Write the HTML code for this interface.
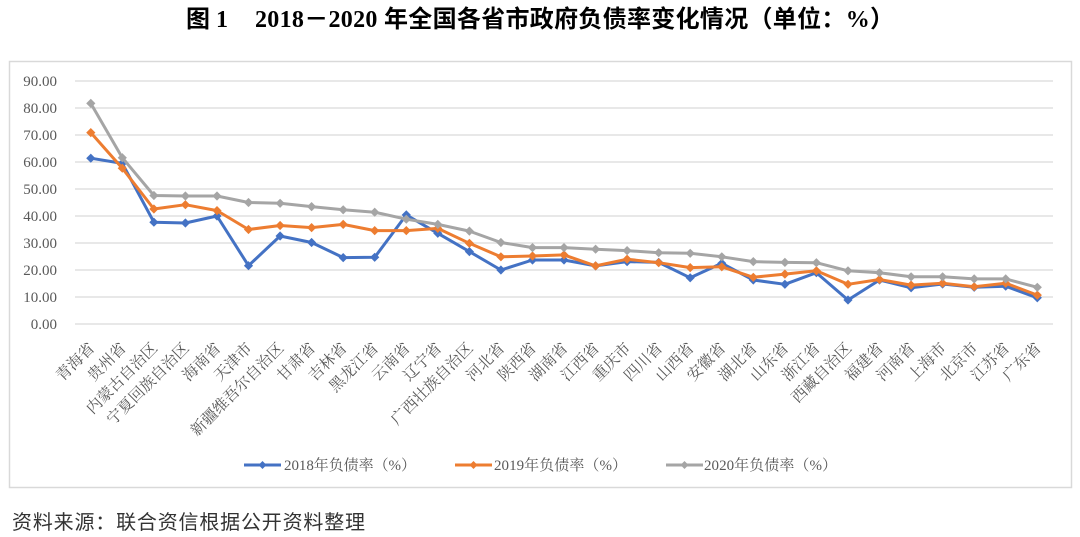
<!DOCTYPE html>
<html><head><meta charset="utf-8"><style>
html,body{margin:0;padding:0;background:#fff;}
svg{display:block;}
.yl{font-family:"Liberation Serif","Noto Serif CJK SC",serif;font-size:15px;fill:#595959;}
.xl{font-family:"Liberation Serif","Noto Serif CJK SC",serif;font-size:15.5px;fill:#595959;}
.lg{font-family:"Liberation Serif","Noto Serif CJK SC",serif;font-size:15px;fill:#595959;}
</style></head><body>
<svg width="1080" height="537" viewBox="0 0 1080 537" xmlns="http://www.w3.org/2000/svg">
<defs>
<marker id="mb" viewBox="-6 -6 12 12" markerWidth="12" markerHeight="12" markerUnits="userSpaceOnUse" refX="0" refY="0"><path d="M0,-4.6 L4.6,0 L0,4.6 L-4.6,0Z" fill="#4472C4"/></marker>
<marker id="mo" viewBox="-6 -6 12 12" markerWidth="12" markerHeight="12" markerUnits="userSpaceOnUse" refX="0" refY="0"><path d="M0,-4.6 L4.6,0 L0,4.6 L-4.6,0Z" fill="#ED7D31"/></marker>
<marker id="mg" viewBox="-6 -6 12 12" markerWidth="12" markerHeight="12" markerUnits="userSpaceOnUse" refX="0" refY="0"><path d="M0,-4.6 L4.6,0 L0,4.6 L-4.6,0Z" fill="#A5A5A5"/></marker>
</defs>
<rect width="1080" height="537" fill="#fff"/>
<!-- title -->
<text x="186" y="27" font-family="'Liberation Serif','Noto Sans CJK SC',sans-serif" font-size="24" font-weight="bold" fill="#000">图 1</text>
<text x="255" y="27" font-family="'Liberation Serif','Noto Sans CJK SC',sans-serif" font-size="24" font-weight="bold" fill="#000" textLength="639" lengthAdjust="spacing">2018－2020 年全国各省市政府负债率变化情况（单位：%）</text>
<!-- chart frame -->
<rect x="9.5" y="61.5" width="1062" height="426" fill="#fff" stroke="#d9d9d9" stroke-width="1.5"/>
<!-- gridlines -->
<g stroke="#d9d9d9" stroke-width="1.2">
<line x1="75" y1="81" x2="1053" y2="81"/>
<line x1="75" y1="108" x2="1053" y2="108"/>
<line x1="75" y1="135" x2="1053" y2="135"/>
<line x1="75" y1="162" x2="1053" y2="162"/>
<line x1="75" y1="189" x2="1053" y2="189"/>
<line x1="75" y1="216" x2="1053" y2="216"/>
<line x1="75" y1="243" x2="1053" y2="243"/>
<line x1="75" y1="270" x2="1053" y2="270"/>
<line x1="75" y1="297" x2="1053" y2="297"/>
<line x1="75" y1="324" x2="1053" y2="324"/>
</g>
<!-- y labels -->
<g class="yl" text-anchor="end">
<text x="57" y="86">90.00</text>
<text x="57" y="113">80.00</text>
<text x="57" y="140">70.00</text>
<text x="57" y="167">60.00</text>
<text x="57" y="194">50.00</text>
<text x="57" y="221">40.00</text>
<text x="57" y="248">30.00</text>
<text x="57" y="275">20.00</text>
<text x="57" y="302">10.00</text>
<text x="57" y="329">0.00</text>
</g>
<!-- series -->
<g fill="none" stroke-width="3" stroke-linejoin="round">
<polyline stroke="#4472C4" marker-start="url(#mb)" marker-mid="url(#mb)" marker-end="url(#mb)" points="90.8,158.2 122.3,163.4 153.9,222.2 185.4,223.0 217.0,216.0 248.5,265.7 280.1,236.0 311.6,242.5 343.2,257.6 374.7,257.3 406.3,214.9 437.8,233.3 469.4,251.6 500.9,270.0 532.5,260.0 564.0,260.0 595.6,265.9 627.1,261.6 658.7,262.4 690.2,277.8 721.8,263.3 753.3,280.0 784.9,284.3 816.4,272.7 848.0,300.0 879.5,280.0 911.1,287.8 942.6,284.0 974.2,287.3 1005.7,286.2 1037.3,297.8"/>
<polyline stroke="#ED7D31" marker-start="url(#mo)" marker-mid="url(#mo)" marker-end="url(#mo)" points="90.8,132.6 122.3,168.2 153.9,209.0 185.4,204.7 217.0,210.6 248.5,229.5 280.1,225.5 311.6,227.6 343.2,224.4 374.7,230.6 406.3,230.6 437.8,228.4 469.4,243.3 500.9,256.8 532.5,256.0 564.0,254.9 595.6,265.9 627.1,259.2 658.7,262.7 690.2,267.6 721.8,266.8 753.3,277.3 784.9,274.1 816.4,270.8 848.0,284.3 879.5,279.5 911.1,285.1 942.6,283.2 974.2,286.7 1005.7,283.2 1037.3,295.1"/>
<polyline stroke="#A5A5A5" marker-start="url(#mg)" marker-mid="url(#mg)" marker-end="url(#mg)" points="90.8,103.4 122.3,157.7 153.9,195.5 185.4,196.0 217.0,196.0 248.5,202.5 280.1,203.3 311.6,206.6 343.2,209.8 374.7,212.2 406.3,219.2 437.8,224.4 469.4,231.1 500.9,242.5 532.5,247.6 564.0,247.6 595.6,249.2 627.1,250.6 658.7,252.7 690.2,253.3 721.8,256.8 753.3,261.6 784.9,262.4 816.4,262.7 848.0,270.8 879.5,272.7 911.1,276.8 942.6,276.8 974.2,278.9 1005.7,278.9 1037.3,287.3"/>
</g>
<!-- x labels -->
<g class="xl" text-anchor="end">
<text transform="translate(95.3,349) rotate(-45)">青海省</text>
<text transform="translate(126.8,349) rotate(-45)">贵州省</text>
<text transform="translate(158.4,349) rotate(-45)">内蒙古自治区</text>
<text transform="translate(189.9,349) rotate(-45)">宁夏回族自治区</text>
<text transform="translate(221.5,349) rotate(-45)">海南省</text>
<text transform="translate(253.0,349) rotate(-45)">天津市</text>
<text transform="translate(284.6,349) rotate(-45)">新疆维吾尔自治区</text>
<text transform="translate(316.1,349) rotate(-45)">甘肃省</text>
<text transform="translate(347.7,349) rotate(-45)">吉林省</text>
<text transform="translate(379.2,349) rotate(-45)">黑龙江省</text>
<text transform="translate(410.8,349) rotate(-45)">云南省</text>
<text transform="translate(442.3,349) rotate(-45)">辽宁省</text>
<text transform="translate(473.9,349) rotate(-45)">广西壮族自治区</text>
<text transform="translate(505.4,349) rotate(-45)">河北省</text>
<text transform="translate(537.0,349) rotate(-45)">陕西省</text>
<text transform="translate(568.5,349) rotate(-45)">湖南省</text>
<text transform="translate(600.1,349) rotate(-45)">江西省</text>
<text transform="translate(631.6,349) rotate(-45)">重庆市</text>
<text transform="translate(663.2,349) rotate(-45)">四川省</text>
<text transform="translate(694.7,349) rotate(-45)">山西省</text>
<text transform="translate(726.3,349) rotate(-45)">安徽省</text>
<text transform="translate(757.8,349) rotate(-45)">湖北省</text>
<text transform="translate(789.4,349) rotate(-45)">山东省</text>
<text transform="translate(820.9,349) rotate(-45)">浙江省</text>
<text transform="translate(852.5,349) rotate(-45)">西藏自治区</text>
<text transform="translate(884.0,349) rotate(-45)">福建省</text>
<text transform="translate(915.6,349) rotate(-45)">河南省</text>
<text transform="translate(947.1,349) rotate(-45)">上海市</text>
<text transform="translate(978.7,349) rotate(-45)">北京市</text>
<text transform="translate(1010.2,349) rotate(-45)">江苏省</text>
<text transform="translate(1041.8,349) rotate(-45)">广东省</text>
</g>
<!-- legend -->
<g stroke-width="3">
<line x1="244" y1="465" x2="281" y2="465" stroke="#4472C4"/>
<line x1="455" y1="465" x2="492" y2="465" stroke="#ED7D31"/>
<line x1="666" y1="465" x2="703" y2="465" stroke="#A5A5A5"/>
</g>
<path d="M262.5,461 L266.5,465 L262.5,469 L258.5,465Z" fill="#4472C4"/>
<path d="M473.5,461 L477.5,465 L473.5,469 L469.5,465Z" fill="#ED7D31"/>
<path d="M684.5,461 L688.5,465 L684.5,469 L680.5,465Z" fill="#A5A5A5"/>
<g class="lg">
<text x="284" y="470" textLength="132" lengthAdjust="spacing">2018年负债率（%）</text>
<text x="494" y="470" textLength="133" lengthAdjust="spacing">2019年负债率（%）</text>
<text x="704" y="470" textLength="133" lengthAdjust="spacing">2020年负债率（%）</text>
</g>
<!-- source -->
<text x="12" y="529" font-family="'Liberation Sans','Noto Sans CJK SC',sans-serif" font-size="20" fill="#333" textLength="353" lengthAdjust="spacing">资料来源：联合资信根据公开资料整理</text>
</svg>
</body></html>
